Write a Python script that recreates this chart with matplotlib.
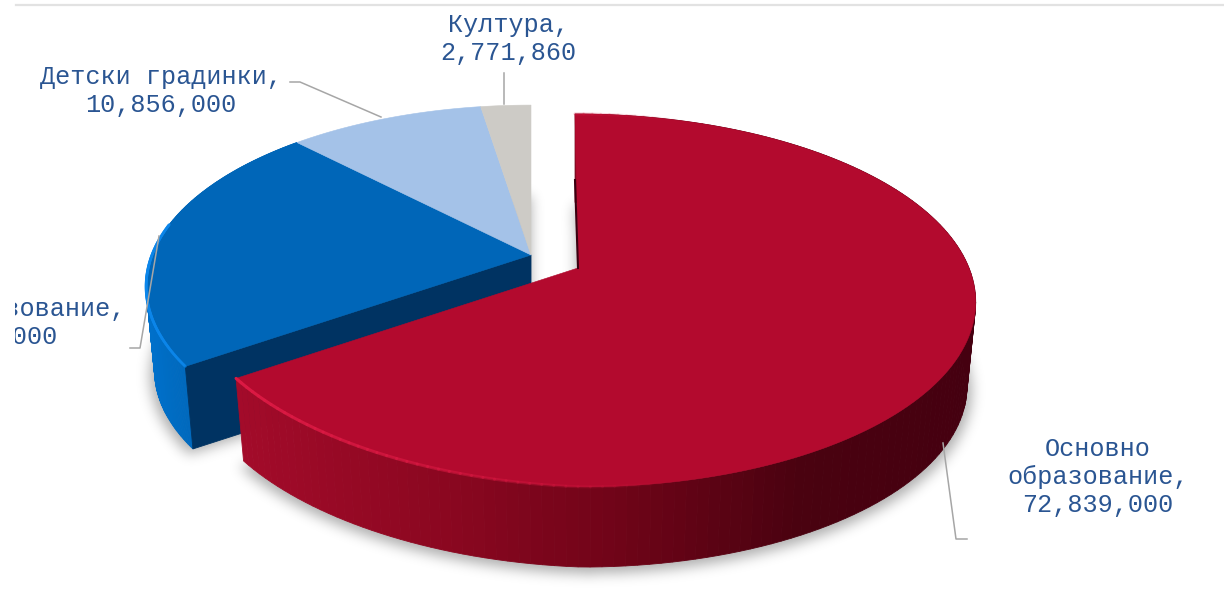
import numpy as np
import matplotlib
import matplotlib.pyplot as plt
from matplotlib.colors import to_rgb
from matplotlib.path import Path
from matplotlib.patches import Polygon, Rectangle

matplotlib.use("Agg")

categories = ["Основно\nобразование", "Средно образование", "Детски градинки", "Култура"]
values = [72839000, 25000000, 10856000, 2771860]  # the second value is cut off in the picture, estimated from its angle

top_colors = ["#B30A2E", "#0066B8", "#A4C2E8", "#CDCBC6"]
text_color = "#2A5592"
line_color = "#A6A6A6"

label_pos = [(1098, 477), (-18, 323), (161, 91), (508, 39)]
leaders = [
    [(943, 443), (956, 539), (967, 539)],
    [(130, 348), (140, 348), (159, 236)],
    [(290, 82), (300, 82), (381, 117)],
    [(504, 73), (504, 104)],
]

# perspective of the disc, pixels
TILT = 0.174
DEPTH = 85
BOTTOM_SCALE = 0.978
RED = dict(cx=578, cy=268, a=391, b=180.8, skew=-3.5, dent=0.075)
REST = dict(cx=531, cy=255, a=379, b=176, skew=0, dent=0.0)


def _project(theta, geo, lower=False, grow=1.0):
    # theta in degrees, clockwise from 12 o'clock
    t = np.radians(theta)
    u, v = np.sin(t), np.cos(t)
    w = 1 + TILT * v
    # the front-left of the picture's disc is a little flatter than an ellipse
    s = (BOTTOM_SCALE if lower else 1.0) * grow
    s = s * (1 - geo["dent"] * np.clip(-u, 0, 1) * np.clip(-v, 0, 1))
    x = geo["cx"] + s * (geo["a"] * u + geo["skew"] * v) / w
    y = geo["cy"] + (DEPTH if lower else 0) - s * geo["b"] * v / w
    return x, y


def _apex(geo, lower=False):
    return geo["cx"], geo["cy"] + (DEPTH if lower else 0)


def _wedge(start, end, geo, lower=False, grow=1.0):
    th = np.linspace(start, end, 200)
    x, y = _project(th, geo, lower, grow)
    ax0, ay0 = _apex(geo, lower)
    return np.vstack([[ax0, ay0], np.column_stack([x, y])])


def _ramp(pos, stops):
    xs = [s[0] for s in stops]
    rgb = np.array([to_rgb(s[1]) for s in stops])
    return tuple(np.interp(pos, xs, rgb[:, i]) for i in range(3))


def _blur(img, sigma):
    r = int(sigma * 3)
    kernel = np.exp(-0.5 * (np.arange(-r, r + 1) / sigma) ** 2)
    kernel /= kernel.sum()
    img = np.array([np.convolve(row, kernel, mode="same") for row in img])
    return np.array([np.convolve(col, kernel, mode="same") for col in img.T]).T


def _draw_wall(ax, start, end, geo, stops):
    th = np.linspace(start, end, 160)
    xt, yt = _project(th, geo)
    xb, yb = _project(th, geo, lower=True)
    for i in range(len(th) - 1):
        color = _ramp((xt[i] + xt[i + 1]) / 2, stops)
        quad = [(xt[i], yt[i]), (xt[i + 1], yt[i + 1]), (xb[i + 1], yb[i + 1]), (xb[i], yb[i])]
        ax.add_patch(Polygon(quad, closed=True, fc=color, ec=color, lw=0.6, zorder=3))


def _draw_bevel(ax, start, end, geo, color, fade_from, fade_to, width=2.2):
    th = np.linspace(start, end, 160)
    x, y = _project(th, geo)
    for i in range(len(th) - 1):
        alpha = np.clip((fade_to - x[i]) / (fade_to - fade_from), 0, 1)
        ax.plot(x[i:i + 2], y[i:i + 2], color=color, alpha=float(alpha), lw=width,
                solid_capstyle="round", zorder=5)


fig = plt.figure(figsize=(12.24, 6.15), dpi=100)
ax = fig.add_axes([0, 0, 1, 1])
ax.set_xlim(0, 1224)
ax.set_ylim(615, 0)
ax.axis("off")

angles = np.concatenate([[0], np.cumsum(values) / np.sum(values) * 360])

# soft shadow under the whole pie
yy, xx = np.mgrid[0:615, 0:1224]
grid = np.column_stack([xx.ravel() + 0.5, yy.ravel() - 3.5])
mask = Path(_wedge(angles[0], angles[1], RED, lower=True, grow=1.012)).contains_points(grid)
mask |= Path(_wedge(angles[1], angles[4], REST, lower=True, grow=1.012)).contains_points(grid)
shade = _blur(mask.reshape(615, 1224).astype(float), 6.5)
rgba = np.zeros((615, 1224, 4))
rgba[..., 3] = shade * 0.32
ax.imshow(rgba, extent=(0, 1224, 615, 0), aspect="auto", zorder=1)
ax.set_xlim(0, 1224)
ax.set_ylim(615, 0)

# blue wedge: outer wall, cut face, then the flat tops of the back group
blue_stops = [(140, "#0071CC"), (200, "#0066B8")]
_draw_wall(ax, angles[1], angles[2], REST, blue_stops)
corner = _project(angles[1], REST)
corner_low = _project(angles[1], REST, lower=True)
ax.add_patch(Polygon([_apex(REST), corner, corner_low, _apex(REST, lower=True)], closed=True,
                     fc="#003362", ec="#003362", lw=0.6, zorder=3))
for i in (1, 2, 3):
    pts = _wedge(angles[i], angles[i + 1], REST)
    ax.add_patch(Polygon(pts, closed=True, fc=top_colors[i], ec=top_colors[i], lw=0.4, zorder=4))
_draw_bevel(ax, angles[1], angles[1] + 45, REST, "#0C86EA", 150, 260, width=2)

# red wedge in front of the rest
ax.plot([575, 578], [180, 268], color="#3A0010", lw=1.5, zorder=5)
red_stops = [(235, "#A30B2A"), (450, "#8A0720"), (620, "#6F0418"), (800, "#4A0210"), (975, "#450010")]
_draw_wall(ax, angles[0], angles[1], RED, red_stops)
pts = _wedge(angles[0], angles[1], RED)
ax.add_patch(Polygon(pts, closed=True, fc=top_colors[0], ec=top_colors[0], lw=0.4, zorder=4))
_draw_bevel(ax, angles[0], angles[1], RED, "#DC1A44", 240, 680)

# header rule of the page the chart was cut from
ax.plot([16, 1224], [5, 5], color="#E2E2E2", lw=1.6, zorder=2)

for pts in leaders:
    xs, ys = zip(*pts)
    ax.plot(xs, ys, color=line_color, lw=1.1, zorder=6)

page = Rectangle((15, 0), 1209, 615, transform=ax.transData)
for name, value, (lx, ly) in zip(categories, values, label_pos):
    t = ax.text(lx, ly, f"{name},\n{value:,}", family="Liberation Mono", fontsize=18.1,
                color=text_color, ha="center", va="center", linespacing=1.2, zorder=7)
    t.set_clip_path(page)
    t.set_clip_on(True)

fig.savefig("out.png", dpi=100)
plt.close(fig)
